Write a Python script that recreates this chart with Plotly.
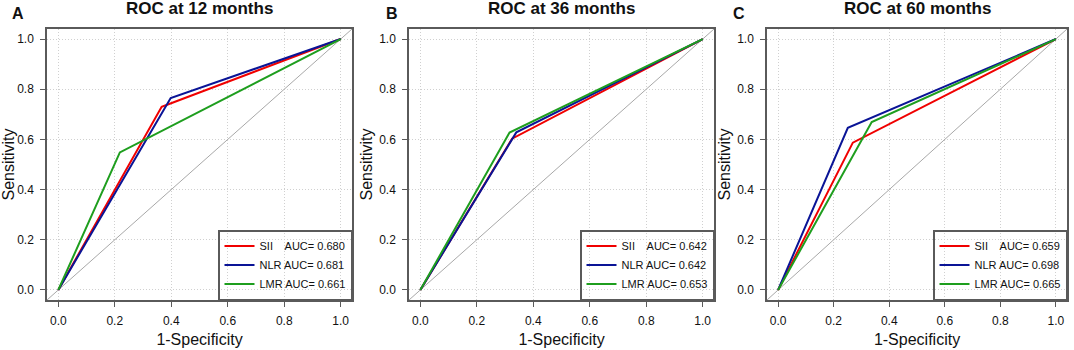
import plotly.graph_objects as go

W, H = 1074, 350

# ---------------- data ----------------
panels = ["A", "B", "C"]
titles = ["ROC at 12 months", "ROC at 36 months", "ROC at 60 months"]
markers = ["SII", "NLR", "LMR"]

# 12 months
fpr_12_sii = [0.0, 0.366, 0.39, 1.0]
tpr_12_sii = [0.0, 0.730, 0.740, 1.0]
fpr_12_nlr = [0.0, 0.398, 1.0]
tpr_12_nlr = [0.0, 0.765, 1.0]
fpr_12_lmr = [0.0, 0.218, 1.0]
tpr_12_lmr = [0.0, 0.548, 1.0]
auc_12 = [0.680, 0.681, 0.661]

# 36 months
fpr_36_sii = [0.0, 0.325, 1.0]
tpr_36_sii = [0.0, 0.603, 1.0]
fpr_36_nlr = [0.0, 0.340, 1.0]
tpr_36_nlr = [0.0, 0.628, 1.0]
fpr_36_lmr = [0.0, 0.316, 1.0]
tpr_36_lmr = [0.0, 0.627, 1.0]
auc_36 = [0.642, 0.642, 0.653]

# 60 months
fpr_60_sii = [0.0, 0.269, 1.0]
tpr_60_sii = [0.0, 0.587, 1.0]
fpr_60_nlr = [0.0, 0.251, 1.0]
tpr_60_nlr = [0.0, 0.646, 1.0]
fpr_60_lmr = [0.0, 0.337, 1.0]
tpr_60_lmr = [0.0, 0.669, 1.0]
auc_60 = [0.659, 0.698, 0.665]

tick_vals = [0.0, 0.2, 0.4, 0.6, 0.8, 1.0]
tick_text = ["0.0", "0.2", "0.4", "0.6", "0.8", "1.0"]

curves = [
    [(fpr_12_sii, tpr_12_sii), (fpr_12_nlr, tpr_12_nlr), (fpr_12_lmr, tpr_12_lmr)],
    [(fpr_36_sii, tpr_36_sii), (fpr_36_nlr, tpr_36_nlr), (fpr_36_lmr, tpr_36_lmr)],
    [(fpr_60_sii, tpr_60_sii), (fpr_60_nlr, tpr_60_nlr), (fpr_60_lmr, tpr_60_lmr)],
]
aucs = [auc_12, auc_36, auc_60]

# ---------------- style ----------------
FONT = "Arial, Liberation Sans, sans-serif"
colors = ["#f00000", "#0a1496", "#1e9e1e"]
AX = "#5a5a5a"
RNG = [-0.04, 1.04]
x_px = [(47, 352), (409, 714), (767, 1067)]
y_px = (29, 300)
label_pad = {"SII": "SII\u00a0\u00a0\u00a0 ", "NLR": "NLR ", "LMR": "LMR "}

fig = go.Figure()

for i in range(3):
    sfx = "" if i == 0 else str(i + 1)
    xa, ya = "x" + sfx, "y" + sfx
    leg = "legend" + sfx
    # reference diagonal across the full plotting region
    fig.add_trace(go.Scatter(x=RNG, y=RNG, mode="lines", xaxis=xa, yaxis=ya,
                             line=dict(color="#a8a8a8", width=1), showlegend=False,
                             hoverinfo="skip"))
    for j, (fx, ty) in enumerate(curves[i]):
        fig.add_trace(go.Scatter(
            x=fx, y=ty, mode="lines", xaxis=xa, yaxis=ya,
            line=dict(color=colors[j], width=2),
            name=f"{label_pad[markers[j]]}AUC= {aucs[i][j]:.3f}",
            legend=leg, showlegend=True))

    x0, x1 = x_px[i]
    dom_x = [x0 / W, x1 / W]
    dom_y = [1 - y_px[1] / H, 1 - y_px[0] / H]
    axcommon = dict(range=RNG, tickvals=tick_vals, ticktext=tick_text,
                    showline=True, mirror=True, linecolor=AX, linewidth=1.5,
                    ticks="outside", ticklen=5, tickcolor=AX, tickwidth=1,
                    showgrid=True, gridcolor="#d0d0d0", griddash="1px,2px", gridwidth=1,
                    zeroline=False, tickfont=dict(family=FONT, size=12, color="#111"),
                    fixedrange=True)
    fig.update_layout(**{
        ("xaxis" + sfx): dict(domain=dom_x, anchor=ya,
                              title=dict(text="1-Specificity", standoff=7,
                                         font=dict(family=FONT, size=16, color="#111")),
                              ticklabelstandoff=4, **axcommon),
        ("yaxis" + sfx): dict(domain=dom_y, anchor=xa,
                              title=dict(text="Sensitivity", standoff=3,
                                         font=dict(family=FONT, size=16, color="#111")),
                              ticklabelstandoff=4, **axcommon),
        leg: dict(x=x1 / W, y=1 - y_px[1] / H, xanchor="right", yanchor="bottom",
                  xref="paper", yref="paper",
                  bgcolor="rgba(0,0,0,0)", bordercolor=AX, borderwidth=1.5,
                  font=dict(family=FONT, size=11, color="#111"),
                  itemwidth=30, tracegroupgap=0),
    })
    fig.add_annotation(text=f"<b>{titles[i]}</b>", x=(x0 + x1) / 2 / W, y=1 - 9 / H,
                       xref="paper", yref="paper", showarrow=False,
                       font=dict(family=FONT, size=17, color="#111"),
                       xanchor="center", yanchor="middle")
    letter_x = [18, 392, 739][i]
    fig.add_annotation(text=f"<b>{panels[i]}</b>", x=letter_x / W, y=1 - 13 / H,
                       xref="paper", yref="paper", showarrow=False,
                       font=dict(family=FONT, size=16, color="#111"),
                       xanchor="center", yanchor="middle")

fig.update_layout(width=W, height=H, margin=dict(l=0, r=0, t=0, b=0),
                  paper_bgcolor="white", plot_bgcolor="white",
                  font=dict(family=FONT, color="#111"), autosize=False)

fig.write_html("out.html", config={"displayModeBar": False},
               post_script="document.body.style.margin='0';document.body.style.overflow='hidden';")
